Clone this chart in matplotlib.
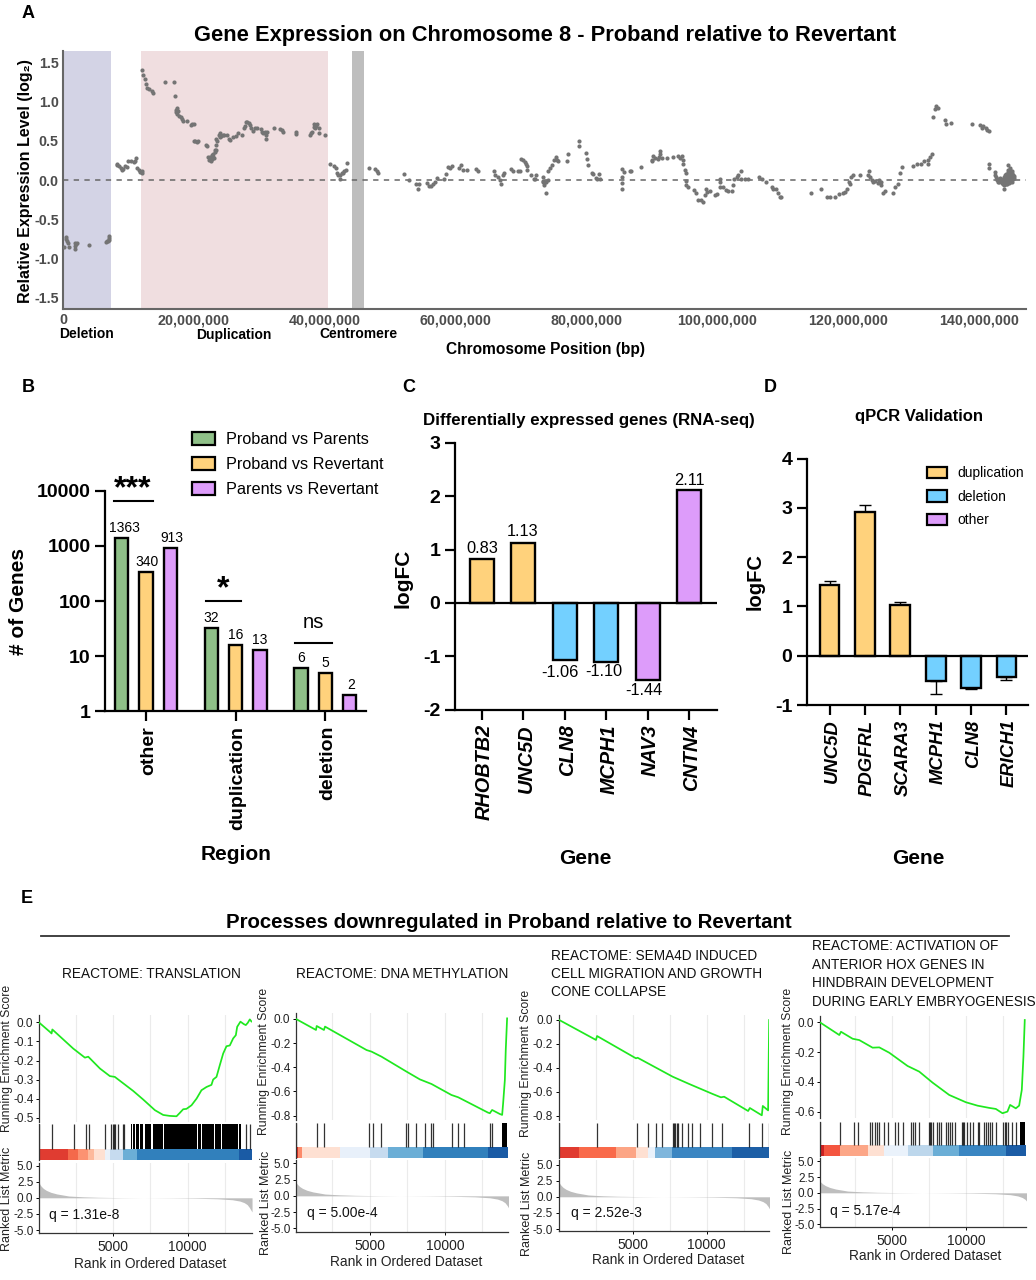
import numpy as np
import matplotlib
matplotlib.use("Agg")
import matplotlib.pyplot as plt
from matplotlib.patches import Patch
from matplotlib.transforms import ScaledTranslation

plt.rcParams['font.family'] = ['Liberation Sans', 'DejaVu Sans']
plt.rcParams['axes.unicode_minus'] = False

W, H = 1036, 1280

# colours
GREEN, YELLOW, BLUE, PURPLE = '#8FC088', '#FFD27C', '#73D0FF', '#DD9CFA'

# Panel A: (position in Mb, log2 expression)
chr8_deletion = [(0.2, -0.86), (0.4, -0.73), (0.5, -0.75), (0.6, -0.78), (0.7, -0.8), (0.9, -0.85), (1.8, -0.88),
                 (1.8, -0.84), (1.9, -0.8), (2.0, -0.82), (2.1, -0.8), (4.0, -0.83), (6.5, -0.79), (6.7, -0.78),
                 (6.9, -0.78), (7.0, -0.74), (7.1, -0.72), (7.0, -0.76)]
chr8_gap = [(8.2, 0.21), (8.3, 0.19), (8.6, 0.18), (8.9, 0.15), (9.0, 0.13), (9.2, 0.14), (9.5, 0.18), (9.8, 0.17),
            (10.0, 0.25), (10.4, 0.24), (10.8, 0.23), (11.0, 0.25), (11.1, 0.28), (11.3, 0.15), (11.6, 0.13),
            (11.8, 0.1), (12.0, 0.09), (12.0, 0.12)]
chr8_duplication = [(12.0, 1.41), (12.3, 1.34), (12.5, 1.29), (12.7, 1.23), (12.8, 1.18), (13.2, 1.16), (13.6, 1.14),
                    (13.7, 1.11), (15.6, 1.25), (17.0, 1.25), (17.1, 1.07), (17.2, 0.9), (17.3, 0.87), (17.4, 0.85),
                    (17.5, 0.92), (17.6, 0.88), (17.8, 0.82), (18.0, 0.8), (18.2, 0.78), (18.4, 0.76), (18.9, 0.76),
                    (19.5, 0.7), (19.7, 0.71), (20.0, 0.71), (20.0, 0.5), (20.2, 0.5), (20.5, 0.49), (20.6, 0.5),
                    (21.8, 0.45), (22.0, 0.44), (22.2, 0.3), (22.3, 0.26), (22.4, 0.3), (22.5, 0.28), (22.6, 0.25),
                    (22.7, 0.32), (22.8, 0.27), (22.9, 0.3), (23.0, 0.33), (23.1, 0.28), (23.2, 0.36), (23.3, 0.38),
                    (23.4, 0.39), (23.4, 0.45), (23.4, 0.52), (23.6, 0.5), (23.8, 0.58), (24.0, 0.6), (24.0, 0.55),
                    (24.2, 0.56), (24.4, 0.58), (24.6, 0.57), (25.0, 0.57), (25.3, 0.53), (25.6, 0.51), (26.0, 0.55),
                    (26.5, 0.56), (26.7, 0.6), (27.4, 0.58), (27.7, 0.66), (27.8, 0.69), (28.0, 0.74), (28.2, 0.74),
                    (28.4, 0.73), (28.6, 0.7), (28.8, 0.66), (29.1, 0.63), (29.3, 0.66), (29.6, 0.66), (30.3, 0.65),
                    (30.4, 0.62), (30.6, 0.6), (30.9, 0.62), (31.0, 0.57), (31.0, 0.52), (31.2, 0.62), (32.2, 0.67),
                    (33.1, 0.65), (33.4, 0.64), (33.7, 0.61), (35.6, 0.61), (35.6, 0.59), (37.7, 0.57), (37.9, 0.6),
                    (38.1, 0.62), (38.3, 0.68), (38.4, 0.71), (38.5, 0.66), (38.7, 0.69), (38.9, 0.71), (39.1, 0.66),
                    (39.1, 0.6), (40.0, 0.58)]
chr8_arm_mid = [(40.8, 0.2), (41.4, 0.18), (41.7, 0.15), (41.9, 0.09), (42.1, 0.06), (42.3, 0.02), (42.4, 0.06),
                (42.6, 0.09), (42.8, 0.09), (43.0, 0.11), (43.2, 0.13), (43.4, 0.22), (46.8, 0.15), (47.7, 0.14),
                (48.0, 0.12), (48.2, 0.09), (52.1, 0.08), (52.9, 0.0), (54.0, -0.05), (54.2, -0.11), (54.4, -0.05),
                (55.6, -0.04), (55.9, -0.07), (56.2, -0.08), (56.5, -0.05), (56.8, -0.02), (57.2, 0.03), (58.2, 0.02),
                (58.5, 0.08), (58.9, 0.17), (59.2, 0.15), (59.4, 0.18), (60.6, 0.15), (60.8, 0.19), (61.1, 0.13),
                (61.8, 0.13), (63.2, 0.14), (63.5, 0.11), (65.9, 0.12), (66.0, 0.06), (66.5, 0.04), (66.8, 0.0),
                (66.9, -0.05), (67.3, 0.06), (67.4, 0.09), (68.5, 0.14), (68.8, 0.11), (69.6, 0.12), (69.8, 0.11),
                (70.0, 0.27), (70.3, 0.26), (70.6, 0.23), (70.8, 0.21), (71.0, 0.18), (71.0, 0.13), (71.6, 0.06),
                (72.3, 0.06), (72.0, 0.01), (72.1, 0.01), (73.3, 0.04), (73.3, -0.01), (73.4, -0.03), (73.5, -0.06),
                (73.8, -0.16), (73.7, -0.02), (73.9, -0.02), (74.2, 0.0), (74.2, 0.11), (74.5, 0.15), (74.7, 0.19),
                (75.0, 0.26), (75.3, 0.29), (75.5, 0.26), (75.7, 0.24), (77.1, 0.25), (77.2, 0.33), (78.8, 0.44),
                (78.9, 0.5), (79.9, 0.34), (80.1, 0.27), (80.3, 0.19), (80.8, 0.09), (81.0, 0.08), (81.5, 0.03),
                (81.7, 0.02), (82.0, 0.08), (82.1, 0.02), (85.4, -0.04), (85.4, -0.11), (85.5, 0.04), (85.5, 0.14),
                (85.8, 0.1), (86.6, 0.11), (86.8, 0.11), (88.4, 0.17), (90.0, 0.24), (90.1, 0.26), (90.2, 0.31),
                (90.5, 0.28), (90.9, 0.27), (91.1, 0.3), (91.3, 0.37), (91.3, 0.33), (91.5, 0.28), (92.3, 0.28),
                (93.2, 0.29), (94.0, 0.31), (94.3, 0.28), (94.6, 0.31), (94.7, 0.26), (94.8, 0.21), (95.0, 0.13),
                (95.2, 0.09), (95.3, -0.01), (95.2, -0.06), (95.6, -0.09), (96.4, -0.13), (96.7, -0.17), (97.1, -0.26),
                (97.5, -0.26), (97.9, -0.28), (98.1, -0.19), (98.3, -0.11), (98.5, -0.15), (98.9, -0.14), (99.6, -0.19),
                (100.0, -0.18), (100.4, -0.09), (100.5, 0.01), (100.5, -0.02), (100.9, -0.09), (101.3, -0.13),
                (101.7, -0.14), (102.2, -0.14), (102.4, -0.06), (102.6, 0.01), (103.0, 0.04), (103.2, 0.06),
                (103.6, 0.11), (103.7, 0.02), (104.2, 0.02), (104.7, 0.02)]
chr8_arm_end = [(106.4, 0.04), (106.8, 0.01), (107.5, -0.03), (108.3, -0.09), (108.6, -0.11), (109.0, -0.12),
                (109.3, -0.16), (109.6, -0.21), (109.8, -0.21), (114.4, -0.17), (115.8, -0.12), (116.8, -0.21),
                (117.2, -0.21), (118.0, -0.21), (118.6, -0.18), (119.2, -0.16), (119.5, -0.15), (119.9, -0.12),
                (120.1, -0.02), (120.3, -0.05), (120.5, 0.04), (120.8, 0.06), (121.8, 0.06), (123.2, 0.11),
                (123.1, 0.06), (123.3, 0.04), (123.6, 0.0), (123.8, -0.02), (124.1, -0.01), (124.6, -0.04),
                (124.8, 0.0), (125.0, -0.02), (125.1, -0.06), (125.3, -0.16), (125.6, -0.14), (126.8, -0.16),
                (127.2, -0.09), (127.6, -0.05), (127.9, 0.09), (128.2, 0.17), (130.0, 0.18), (130.5, 0.2),
                (131.1, 0.21), (131.6, 0.24), (132.2, 0.21), (132.2, 0.26), (132.5, 0.3), (132.8, 0.33), (133.0, 0.81),
                (133.3, 0.91), (133.5, 0.94), (133.8, 0.92), (134.8, 0.77), (135.0, 0.72), (135.8, 0.73),
                (138.9, 0.71), (140.1, 0.7), (140.4, 0.66), (140.7, 0.69), (141.1, 0.67), (141.3, 0.64), (141.5, 0.63),
                (141.5, 0.21), (141.5, 0.15)]
chr8_telomere = [(142.4, 0.1), (142.5, 0.07), (142.6, 0.04), (142.7, 0.02), (142.8, 0.0), (142.9, -0.02), (143.0, 0.01),
                 (143.1, -0.03), (143.2, 0.03), (143.3, -0.01), (143.4, 0.02), (143.5, -0.04), (143.6, 0.0),
                 (143.7, -0.05), (143.8, 0.02), (143.8, -0.11), (143.9, -0.06), (143.9, 0.04), (144.0, -0.03),
                 (144.0, 0.01), (144.0, 0.06), (144.1, -0.05), (144.1, 0.03), (144.2, -0.02), (144.2, 0.08),
                 (144.3, 0.0), (144.3, 0.05), (144.3, -0.05), (144.4, 0.03), (144.4, -0.03), (144.4, 0.1),
                 (144.5, 0.07), (144.5, -0.01), (144.5, 0.19), (144.5, 0.13), (144.6, 0.04), (144.6, -0.04),
                 (144.6, 0.1), (144.7, 0.01), (144.7, 0.06), (144.7, 0.15), (144.8, 0.03), (144.8, -0.03),
                 (144.8, 0.09), (144.9, 0.12), (144.9, 0.05), (144.9, -0.01), (145.0, 0.02), (145.0, 0.07),
                 (145.0, 0.11), (145.1, 0.04), (145.1, -0.02), (145.1, 0.09), (145.2, 0.02), (145.2, 0.06),
                 (145.3, 0.03), (145.3, 0.05)]
deletion_span = (0, 7.3)
duplication_span = (11.9, 40.45)
centromere_span = (44.1, 46.05)
chrom_ticks = [0, 20, 40, 60, 80, 100, 120, 140]
chrom_ticklabels = ['0', '20,000,000', '40,000,000', '60,000,000', '80,000,000', '100,000,000', '120,000,000', '140,000,000']

# Panel B
regions = ['other', 'duplication', 'deletion']
proband_parents = [1363, 32, 6]
proband_revertant = [340, 16, 5]
parents_revertant = [913, 13, 2]

# Panel C
rnaseq_genes = ['RHOBTB2', 'UNC5D', 'CLN8', 'MCPH1', 'NAV3', 'CNTN4']
rnaseq_logfc = [0.83, 1.13, -1.06, -1.10, -1.44, 2.11]
rnaseq_colors = [YELLOW, YELLOW, BLUE, BLUE, PURPLE, PURPLE]

# Panel D
qpcr_genes = ['UNC5D', 'PDGFRL', 'SCARA3', 'MCPH1', 'CLN8', 'ERICH1']
qpcr_logfc = [1.44, 2.92, 1.04, -0.52, -0.66, -0.44]
qpcr_err = [0.08, 0.13, 0.05, 0.25, 0.02, 0.05]
qpcr_colors = [YELLOW, YELLOW, YELLOW, BLUE, BLUE, BLUE]

# Panel E: shared ranked metric
metric_rank = [0, 60, 150, 300, 500, 800, 1200, 2000, 3000, 4000, 5500, 7000, 9000, 10500, 12000, 13000, 13500, 13800, 14000, 14150, 14330]
metric_val = [2.6, 2.1, 1.8, 1.45, 1.15, 0.85, 0.6, 0.28, 0.15, 0.08, 0.03, 0.0, -0.03, -0.07, -0.15, -0.3, -0.5, -0.75, -1.05, -1.5, -2.2]

es1_rank = [0, 740, 850, 900, 2300, 3090, 3315, 4100, 4770, 5100, 5670, 6340, 7010, 7800, 8355, 8800, 9250, 9475, 9700, 9920, 10260, 10600, 10930, 11270, 11600, 11715, 11940, 12160, 12390, 12610, 12835, 13060, 13240, 13330, 13550, 13780, 13910, 14045, 14180, 14290]
es1_val = [0, -0.05, -0.058, -0.037, -0.137, -0.185, -0.18, -0.242, -0.282, -0.286, -0.32, -0.36, -0.405, -0.461, -0.486, -0.491, -0.493, -0.475, -0.456, -0.454, -0.435, -0.4, -0.356, -0.339, -0.328, -0.3, -0.286, -0.225, -0.163, -0.125, -0.121, -0.084, -0.067, -0.023, 0.004, -0.009, -0.014, -0.002, 0.016, 0.005]
es2_rank = [67, 1400, 1445, 1930, 2000, 4770, 5100, 5770, 7440, 8325, 9100, 10430, 10880, 11320, 12870, 12990, 13140, 13650, 13810, 13875, 13990, 14050, 14140]
es2_val = [0, -0.091, -0.058, -0.091, -0.063, -0.257, -0.27, -0.312, -0.436, -0.5, -0.538, -0.629, -0.648, -0.676, -0.775, -0.78, -0.753, -0.786, -0.794, -0.698, -0.505, -0.257, 0.005]
es3_rank = [0, 2520, 2590, 5220, 5330, 7700, 8820, 10400, 10960, 11180, 12800, 12915, 13725, 13790, 14150, 14220]
es3_val = [0, -0.169, -0.136, -0.322, -0.317, -0.475, -0.536, -0.619, -0.647, -0.642, -0.761, -0.736, -0.797, -0.719, -0.756, -0.003]
es4_rank = [135, 1440, 1553, 2340, 2790, 3690, 4140, 4815, 6050, 6840, 7740, 8865, 9990, 10780, 11565, 12015, 12465, 12800, 12980, 13365, 13590, 13770, 13880, 13970]
es4_val = [0, -0.085, -0.063, -0.11, -0.119, -0.17, -0.168, -0.204, -0.293, -0.331, -0.405, -0.488, -0.537, -0.56, -0.575, -0.582, -0.611, -0.6, -0.555, -0.578, -0.56, -0.454, -0.231, 0.016]

hits1 = [0, 850, 2350, 3135, 3380, 4435, 4840, 4995, 5060, 5130, 5330, 5665, 5735, 13910, 14180]
blocks1 = [(6180, 6290), (6340, 6450), (6540, 6720), (6800, 7030), (7100, 7300), (7350, 7530), (7650, 8350), (8400, 8930), (8970, 9790), (9840, 10640), (10700, 10900), (10950, 11350), (11400, 11800), (11850, 12250), (12300, 12830), (12880, 13370), (13420, 13570)]
hits2 = [67, 1443, 1954, 4930, 5217, 5728, 7393, 7525, 8080, 8635, 9057, 9168, 10500, 10834, 11300, 13010, 13142]
blocks2 = [(13830, 14140)]
hits3 = [0, 2585, 5285, 6050, 6590, 6970, 7692, 7782, 7872, 7962, 8052, 8322, 8727, 9020, 9515, 10370, 11020, 12890, 13767, 14195]
blocks3 = []
hits4 = [135, 1485, 2408, 2700, 3533, 3668, 3825, 3960, 4095, 4433, 4703, 5198, 5423, 5760, 6255, 6390, 6548, 6818, 7470, 7560, 7650, 7763, 8010, 8190, 8280, 8640, 8775, 8910, 9045, 9270, 9698, 9788, 9878, 10080, 10260, 10485, 10778, 10890, 11205, 11340, 11498, 11610, 11790, 12060, 12510, 12645, 12735, 12848, 13140, 13410]
blocks4 = [(13635, 13970)]

band1 = [(1970, '#E03C31'), (2640, '#F4694B'), (3315, '#FC9272'), (3700, '#FDB99C'), (4435, '#FEE0D2'), (4770, '#EAF1FA'), (5670, '#C6DBEF'), (6560, '#6BAED6'), (13460, '#3180BC'), (14330, '#1A5BA5')]
band2 = [(220, '#DC2E26'), (445, '#FC8A6A'), (3000, '#FEE0D2'), (4995, '#E8F0FA'), (6215, '#C6DBEF'), (8550, '#6BAED6'), (12880, '#3180BC'), (14220, '#1A5BA5')]
band3 = [(1350, '#E03B30'), (3870, '#F96A4A'), (5220, '#FCA585'), (6050, '#FEE0D2'), (6500, '#EAF2FB'), (7650, '#7FB6DC'), (11680, '#3B86C2'), (14230, '#1D5FA6')]
band4 = [(430, '#CB2020'), (1485, '#F4553F'), (3350, '#FCA687'), (4475, '#FEE0D2'), (6050, '#EAF2FB'), (7740, '#BDD7EC'), (9540, '#6BAED6'), (12690, '#3A86C2'), (14054, '#1B5CA5')]

fig = plt.figure(figsize=(W / 100, H / 100), dpi=100)


def ax_px(x0, y0, x1, y1):
    return fig.add_axes([x0 / W, 1 - y1 / H, (x1 - x0) / W, (y1 - y0) / H])


def txt(x, y, s, **kw):
    kw.setdefault('ha', 'center')
    kw.setdefault('va', 'center')
    return ov.text(x, y, s, **kw)


def prism_axes(ax):
    for s in ['top', 'right']:
        ax.spines[s].set_visible(False)
    for s in ['left', 'bottom']:
        ax.spines[s].set_linewidth(1.6)
    ax.tick_params(length=7, width=1.6)
    # rotated labels sit a little right of their ticks in the original
    shift = ScaledTranslation(2.5 / 100, 0, fig.dpi_scale_trans)
    for lab in ax.get_xticklabels():
        lab.set_transform(lab.get_transform() + shift)


# overlay in image pixels for panel letters and free labels
ov = fig.add_axes([0, 0, 1, 1], zorder=10)
ov.set_xlim(0, W)
ov.set_ylim(H, 0)
ov.axis('off')

# ---- Panel A
axa = ax_px(63, 50.5, 1026, 309.3)
axa.axvspan(*deletion_span, color='#D3D3E5', lw=0)
axa.axvspan(*duplication_span, color='#F0DEE0', lw=0)
axa.axvspan(*centromere_span, color='#BEBEBE', lw=0)
axa.axhline(0, color='#666666', lw=1.1, ls=(0, (3.5, 3.5)))
for pts in [chr8_deletion, chr8_gap, chr8_duplication, chr8_arm_mid, chr8_arm_end, chr8_telomere]:
    px, py = zip(*pts)
    axa.scatter(px, py, s=9, color='#747474', lw=0, zorder=3)
axa.set_xlim(0, 147.2)
axa.set_ylim(-1.65, 1.655)
axa.set_xticks(chrom_ticks)
axa.set_xticklabels(chrom_ticklabels, fontsize=10.3, fontweight='bold', color='#4D4D4D')
axa.set_yticks([-1.5, -1, -0.5, 0, 0.5, 1, 1.5])
axa.set_yticklabels(['-1.5', '-1.0', '-0.5', '0.0', '0.5', '1.0', '1.5'], fontsize=10.3, fontweight='bold', color='#4D4D4D')
axa.tick_params(length=0, pad=3)
for s in ['top', 'right']:
    axa.spines[s].set_visible(False)
for s in ['left', 'bottom']:
    axa.spines[s].set_color('#666666')
    axa.spines[s].set_linewidth(1.5)

txt(545, 35, 'Gene Expression on Chromosome 8 - Proband relative to Revertant', fontsize=15.75, fontweight='bold')
txt(25.5, 181, 'Relative Expression Level (log₂)', fontsize=11.5, fontweight='bold', rotation=90)
txt(87, 334.5, 'Deletion', fontsize=10, fontweight='bold')
txt(234, 334.5, 'Duplication', fontsize=10, fontweight='bold')
txt(358, 334.5, 'Centromere', fontsize=10, fontweight='bold')
txt(546, 349.5, 'Chromosome Position (bp)', fontsize=11.2, fontweight='bold')

# ---- Panel B
axb = ax_px(105.3, 490.7, 366, 711.3)
xb = np.arange(len(regions))
off = 0.272
label_dx = [[3, 0, 0], [1, 0, 0], [1, 0, 1]]
for i, (vals, col) in enumerate([(proband_parents, GREEN), (proband_revertant, YELLOW), (parents_revertant, PURPLE)]):
    xs = xb + (i - 1) * off
    axb.bar(xs, vals, 0.15, color=col, edgecolor='black', lw=1.7, log=True, zorder=2)
    for x, v, dx in zip(xs, vals, label_dx[i]):
        axb.annotate(f'{v}', (x, v), xytext=(dx, 10), textcoords='offset pixels', ha='center', va='center', fontsize=10)
axb.set_yscale('log')
axb.set_ylim(1, 10000)
axb.set_xlim(-0.454, 2.453)
axb.set_yticks([1, 10, 100, 1000, 10000])
axb.set_yticklabels(['1', '10', '100', '1000', '10000'], fontsize=14, fontweight='bold')
axb.minorticks_off()
axb.set_xticks(xb)
axb.set_xticklabels(regions, rotation=90, fontsize=14, fontweight='bold')
prism_axes(axb)
axb.legend(handles=[Patch(facecolor=GREEN, edgecolor='black', lw=1.6, label='Proband vs Parents'),
                    Patch(facecolor=YELLOW, edgecolor='black', lw=1.6, label='Proband vs Revertant'),
                    Patch(facecolor=PURPLE, edgecolor='black', lw=1.6, label='Parents vs Revertant')],
           loc='upper left', bbox_to_anchor=(192 / W, 1 - 432 / H), bbox_transform=fig.transFigure,
           frameon=False, fontsize=11.7, borderpad=0, borderaxespad=0, handlelength=1.4, handleheight=0.8,
           labelspacing=0.62, handletextpad=0.7)

ov.plot([114, 153], [500.7, 500.7], color='black', lw=1.5)
ov.plot([206, 241], [601, 601], color='black', lw=1.5)
ov.plot([295, 331.7], [643.3, 643.3], color='black', lw=1.5)
txt(133, 489, '***', fontsize=23, fontweight='bold')
txt(222.7, 589, '*', fontsize=23, fontweight='bold')
txt(313, 622, 'ns', fontsize=14.6)
txt(19, 601.7, '# of Genes', fontsize=15, fontweight='bold', rotation=90)
txt(236, 855, 'Region', fontsize=15, fontweight='bold')

# ---- Panel C
axc = ax_px(455, 442.7, 716.7, 709.7)
xc = np.arange(len(rnaseq_genes))
axc.bar(xc, rnaseq_logfc, 0.58, color=rnaseq_colors, edgecolor='black', lw=1.7, zorder=2)
axc.axhline(0, color='black', lw=1.6, zorder=3)
axc.set_xlim(-0.652, 5.669)
axc.set_ylim(-2, 3)
axc.set_yticks([-2, -1, 0, 1, 2, 3])
axc.set_yticklabels(['-2', '-1', '0', '1', '2', '3'], fontsize=14, fontweight='bold')
axc.set_xticks(xc)
axc.set_xticklabels(rnaseq_genes, rotation=90, fontsize=14.3, fontweight='bold', fontstyle='italic')
prism_axes(axc)
value_nudge = [(0, 10), (-1, 11), (-5, -12.5), (-2, -10), (-4, -11), (0, 10)]
for x, y, (dx, dy) in zip(xc, rnaseq_logfc, value_nudge):
    axc.annotate(f'{y:.2f}', (x, y), xytext=(dx, dy), textcoords='offset pixels', ha='center', va='center', fontsize=11.8)
txt(589, 420.5, 'Differentially expressed genes (RNA-seq)', fontsize=12.15, fontweight='bold')
txt(403, 578, 'logFC', fontsize=15, fontweight='bold', rotation=90)
txt(585, 858.5, 'Gene', fontsize=15, fontweight='bold')

# ---- Panel D
axd = ax_px(807, 458.7, 1027.7, 705)
xd = np.arange(len(qpcr_genes))
lower = [e if v < 0 else 0 for v, e in zip(qpcr_logfc, qpcr_err)]
upper = [e if v > 0 else 0 for v, e in zip(qpcr_logfc, qpcr_err)]
axd.errorbar(xd, qpcr_logfc, yerr=[lower, upper], fmt='none', ecolor='black', elinewidth=1, capsize=4.3, capthick=1, zorder=1)
axd.bar(xd, qpcr_logfc, 0.56, color=qpcr_colors, edgecolor='black', lw=1.7, zorder=2)
axd.axhline(0, color='black', lw=1.6, zorder=3)
axd.set_xlim(-0.636, 5.6)
axd.set_ylim(-1, 4)
axd.set_yticks([-1, 0, 1, 2, 3, 4])
axd.set_yticklabels(['-1', '0', '1', '2', '3', '4'], fontsize=14, fontweight='bold')
axd.set_xticks(xd)
axd.set_xticklabels(qpcr_genes, rotation=90, fontsize=13.3, fontweight='bold', fontstyle='italic')
prism_axes(axd)
axd.legend(handles=[Patch(facecolor=YELLOW, edgecolor='black', lw=1.6, label='duplication'),
                    Patch(facecolor=BLUE, edgecolor='black', lw=1.6, label='deletion'),
                    Patch(facecolor=PURPLE, edgecolor='black', lw=1.6, label='other')],
           loc='upper left', bbox_to_anchor=(926.5 / W, 1 - 466.5 / H), bbox_transform=fig.transFigure,
           frameon=False, fontsize=10, borderpad=0, borderaxespad=0, handlelength=1.5, handleheight=0.9,
           labelspacing=0.68, handletextpad=0.7)
txt(919, 417, 'qPCR Validation', fontsize=12, fontweight='bold')
txt(755, 582, 'logFC', fontsize=14.5, fontweight='bold', rotation=90)
txt(918, 858.5, 'Gene', fontsize=15, fontweight='bold')

# panel letters
for lx, ly, ch in [(27.7, 13, 'A'), (28, 387.5, 'B'), (409, 387.5, 'C'), (770, 387.5, 'D'), (27, 898.5, 'E')]:
    txt(lx, ly, ch, fontsize=13, fontweight='bold')

# ---- Panel E
txt(508.5, 923, 'Processes downregulated in Proband relative to Revertant', fontsize=14.7, fontweight='bold')
ov.plot([41, 1009], [936, 936], color='#333333', lw=1.3)

gsea_panels = [
    dict(box=(39, 252), es_y=(1015, 1122), rug_y=(1124, 1160), met_y=(1163, 1233), xlim=(3, 14327), es_lim=(-0.523, 0.039),
         es_ticks=[0, -0.1, -0.2, -0.3, -0.4, -0.5], es_fmt=['0.0', '-0.1', '-0.2', '-0.3', '-0.4', '-0.5'], met_lim=(-5.46, 5.4),
         rank=es1_rank, es=es1_val, hits=hits1, blocks=blocks1, band=band1,
         title='REACTOME: TRANSLATION', tx=61.5, q='q = 1.31e-8', qxy=(49, 1215),
         esl=(6.7, 1058), ml=(7.3, 1199), xl=(150, 1263.5)),
    dict(box=(296, 508.3), es_y=(1013.3, 1120), rug_y=(1122.7, 1157.7), met_y=(1160, 1231.7), xlim=(67, 14220), es_lim=(-0.836, 0.047),
         es_ticks=[0, -0.2, -0.4, -0.6, -0.8], es_fmt=['0.0', '-0.2', '-0.4', '-0.6', '-0.8'], met_lim=(-5.5, 5.5),
         rank=es2_rank, es=es2_val, hits=hits2, blocks=blocks2, band=band2,
         title='REACTOME: DNA METHYLATION', tx=296, q='q = 5.00e-4', qxy=(307.3, 1213),
         esl=(264.3, 1061.7), ml=(265.7, 1203), xl=(405.8, 1262)),
    dict(box=(558.7, 769.3), es_y=(1015, 1120), rug_y=(1122.7, 1157.7), met_y=(1160, 1231), xlim=(0, 14230), es_lim=(-0.836, 0.039),
         es_ticks=[0, -0.2, -0.4, -0.6, -0.8], es_fmt=['0.0', '-0.2', '-0.4', '-0.6', '-0.8'], met_lim=(-5.3, 5.7),
         rank=es3_rank, es=es3_val, hits=hits3, blocks=blocks3, band=band3,
         title='REACTOME: SEMA4D INDUCED\nCELL MIGRATION AND GROWTH\nCONE COLLAPSE', tx=551, q='q = 2.52e-3', qxy=(571, 1213),
         esl=(526, 1063), ml=(527, 1204), xl=(667.7, 1260.5)),
    dict(box=(820, 1026), es_y=(1016, 1118.3), rug_y=(1121.7, 1156), met_y=(1158.3, 1226.7), xlim=(135, 14054), es_lim=(-0.645, 0.043),
         es_ticks=[0, -0.2, -0.4, -0.6], es_fmt=['0.0', '-0.2', '-0.4', '-0.6'], met_lim=(-5.4, 5.5),
         rank=es4_rank, es=es4_val, hits=hits4, blocks=blocks4, band=band4,
         title='REACTOME: ACTIVATION OF\nANTERIOR HOX GENES IN\nHINDBRAIN DEVELOPMENT\nDURING EARLY EMBRYOGENESIS', tx=812, q='q = 5.17e-4', qxy=(830, 1210.7),
         esl=(787.7, 1061), ml=(788.7, 1201.7), xl=(925, 1256.5)),
]
grid_ranks = [2500, 5000, 7500, 10000, 12500]

for p in gsea_panels:
    x0, x1 = p['box']
    es_ax = ax_px(x0, p['es_y'][0], x1, p['es_y'][1])
    rug_ax = ax_px(x0, p['rug_y'][0], x1, p['rug_y'][1])
    met_ax = ax_px(x0, p['met_y'][0], x1, p['met_y'][1])

    for a in (es_ax, met_ax):
        for g in grid_ranks:
            a.axvline(g, color='#EBEBEB', lw=0.8, zorder=0)
    for a in (es_ax, rug_ax, met_ax):
        a.set_xlim(*p['xlim'])
        for s in ['top', 'right', 'bottom']:
            a.spines[s].set_visible(False)
        a.spines['left'].set_color('#333333')
        a.spines['left'].set_linewidth(0.9)

    es_ax.plot(p['rank'], p['es'], color='#1FE81F', lw=1.25, zorder=3)
    es_ax.set_ylim(*p['es_lim'])
    es_ax.set_xticks([])
    es_ax.set_yticks(p['es_ticks'])
    es_ax.set_yticklabels(p['es_fmt'], fontsize=8.5, color='#222222')
    es_ax.tick_params(axis='y', length=2, width=0.7, pad=2)

    band_top = 0.31
    prev = p['xlim'][0]
    for end, col in p['band']:
        rug_ax.broken_barh([(prev, end - prev)], (0, band_top), facecolor=col, lw=0)
        prev = end
    rug_ax.vlines(p['hits'], band_top, 1, color='black', lw=0.9, alpha=0.8)
    for b0, b1 in p['blocks']:
        rug_ax.broken_barh([(b0, b1 - b0)], (band_top, 1 - band_top), facecolor='black', lw=0)
    rug_ax.set_ylim(0, 1)
    rug_ax.set_xticks([])
    rug_ax.set_yticks([])

    met_ax.fill_between(metric_rank, metric_val, 0, color='#BEBEBE', lw=0, zorder=2)
    met_ax.set_ylim(*p['met_lim'])
    met_ax.spines['bottom'].set_visible(True)
    met_ax.spines['bottom'].set_color('#333333')
    met_ax.spines['bottom'].set_linewidth(0.9)
    met_ax.set_yticks([5, 2.5, 0, -2.5, -5])
    met_ax.set_yticklabels(['5.0', '2.5', '0.0', '-2.5', '-5.0'], fontsize=8.5, color='#222222')
    met_ax.set_xticks([5000, 10000])
    met_ax.set_xticklabels(['5000', '10000'], fontsize=10, color='#222222')
    met_ax.tick_params(axis='y', length=2, width=0.7, pad=2)
    met_ax.tick_params(axis='x', length=2, width=0.7, pad=3)

    txt(p['tx'], 974, p['title'], fontsize=9.8, ha='left', linespacing=1.4, color='#111111')
    txt(p['qxy'][0], p['qxy'][1], p['q'], fontsize=10, ha='left', color='#111111')
    txt(p['esl'][0], p['esl'][1], 'Running Enrichment Score', fontsize=8.8, rotation=90, color='#222222')
    txt(p['ml'][0], p['ml'][1], 'Ranked List Metric', fontsize=9, rotation=90, color='#222222')
    txt(p['xl'][0], p['xl'][1], 'Rank in Ordered Dataset', fontsize=9.9, color='#222222')

fig.savefig('out.png', dpi=100)
